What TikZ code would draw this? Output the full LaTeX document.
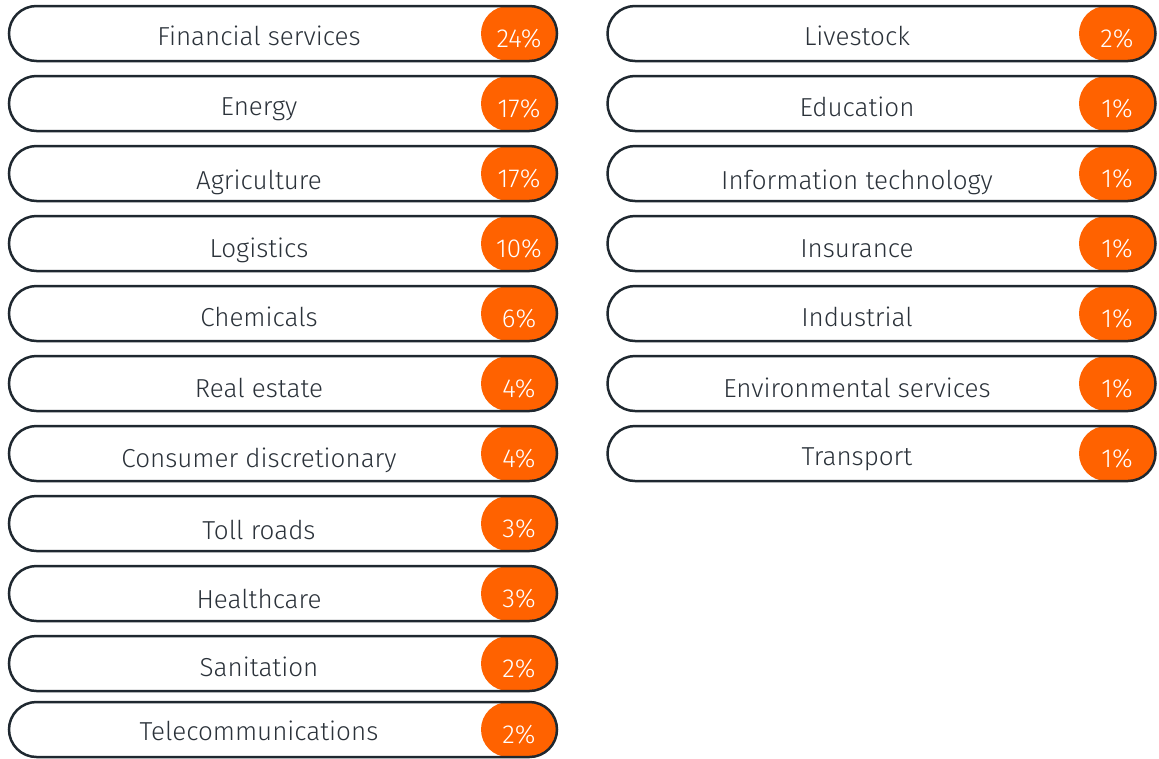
\documentclass[tikz,border=0pt]{standalone}
\usepackage{fontspec}
\setmainfont{Fira Sans}[UprightFont=* Light]
\definecolor{pillline}{HTML}{1F2830}
\definecolor{pilltext}{HTML}{2B323A}
\definecolor{share}{HTML}{FF6200}

\begin{document}
\begin{tikzpicture}[x=1pt,y=-1pt,
  pill/.style={draw=pillline,line width=2.5pt,rounded corners=27.5pt,minimum width=548pt,minimum height=55pt,inner sep=0pt},
  share node/.style={fill=share,rounded corners=27.5pt,minimum width=76pt,minimum height=55pt,inner sep=0pt,text height=27pt,text depth=0pt,text=white,font=\fontsize{26}{30}\selectfont},
  label node/.style={text=pilltext,anchor=base,font=\fontsize{26}{30}\selectfont}]
  \useasboundingbox (0,0) rectangle (1159,758);

  % left column
  \node[share node] (s0) at (519,33.5) {24\%};
  \node[pill] (p0) at (283,33.5) {};
  \node[label node] (l0) at (259,45) {Financial services};
  \node[share node] (s1) at (519,103.5) {17\%};
  \node[pill] (p1) at (283,103.5) {};
  \node[label node] (l1) at (259,115) {Energy};
  \node[share node] (s2) at (519,173.5) {17\%};
  \node[pill] (p2) at (283,173.5) {};
  \node[label node] (l2) at (259,189) {Agriculture};
  \node[share node] (s3) at (519,243.5) {10\%};
  \node[pill] (p3) at (283,243.5) {};
  \node[label node] (l3) at (259,257) {Logistics};
  \node[share node] (s4) at (519,313.5) {6\%};
  \node[pill] (p4) at (283,313.5) {};
  \node[label node] (l4) at (259,326) {Chemicals};
  \node[share node] (s5) at (519,383.5) {4\%};
  \node[pill] (p5) at (283,383.5) {};
  \node[label node] (l5) at (259,397) {Real estate};
  \node[share node] (s6) at (519,453.5) {4\%};
  \node[pill] (p6) at (283,453.5) {};
  \node[label node] (l6) at (259,467) {Consumer discretionary};
  \node[share node] (s7) at (519,523.5) {3\%};
  \node[pill] (p7) at (283,523.5) {};
  \node[label node] (l7) at (259,539) {Toll roads};
  \node[share node] (s8) at (519,593.5) {3\%};
  \node[pill] (p8) at (283,593.5) {};
  \node[label node] (l8) at (259,608) {Healthcare};
  \node[share node] (s9) at (519,663.5) {2\%};
  \node[pill] (p9) at (283,663.5) {};
  \node[label node] (l9) at (259,676) {Sanitation};
  \node[share node] (s10) at (519,729.5) {2\%};
  \node[pill] (p10) at (283,729.5) {};
  \node[label node] (l10) at (259,740) {Telecommunications};

  % right column
  \node[share node] (s11) at (1117,33.5) {2\%};
  \node[pill] (p11) at (881.5,33.5) {};
  \node[label node] (l11) at (857,45) {Livestock};
  \node[share node] (s12) at (1117,103.5) {1\%};
  \node[pill] (p12) at (881.5,103.5) {};
  \node[label node] (l12) at (857,116) {Education};
  \node[share node] (s13) at (1117,173.5) {1\%};
  \node[pill] (p13) at (881.5,173.5) {};
  \node[label node] (l13) at (857,189) {Information technology};
  \node[share node] (s14) at (1117,243.5) {1\%};
  \node[pill] (p14) at (881.5,243.5) {};
  \node[label node] (l14) at (857,257) {Insurance};
  \node[share node] (s15) at (1117,313.5) {1\%};
  \node[pill] (p15) at (881.5,313.5) {};
  \node[label node] (l15) at (857,326) {Industrial};
  \node[share node] (s16) at (1117,383.5) {1\%};
  \node[pill] (p16) at (881.5,383.5) {};
  \node[label node] (l16) at (857,397) {Environmental services};
  \node[share node] (s17) at (1117,453.5) {1\%};
  \node[pill] (p17) at (881.5,453.5) {};
  \node[label node] (l17) at (857,465) {Transport};
\end{tikzpicture}
\end{document}
